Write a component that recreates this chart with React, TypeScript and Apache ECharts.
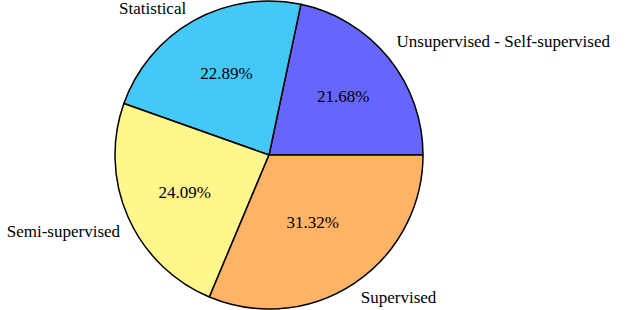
import React, { useEffect, useRef } from "react";
import * as echarts from "echarts";

const categories = ["Unsupervised - Self-supervised", "Statistical", "Semi-supervised", "Supervised"];
const shares = [21.68, 22.89, 24.09, 31.32];
const colors = ["#6666ff", "#44c8f5", "#fff68c", "#ffb366"];

export default function App() {
  const ref = useRef<HTMLDivElement>(null);
  useEffect(() => {
    document.body.style.margin = "0";
    const chart = echarts.init(ref.current!, null, { renderer: "svg" });
    const R = 154;
    const FAMILY = "'Liberation Serif', 'Times New Roman', serif";
    const nameNudge = [[-4, -7], [0, 1], [6, 8], [-2, 1]];
    const pctNudge = [[0, 2], [4, 2], [3, -1], [-9, -12]];
    chart.setOption({
      animation: false,
      backgroundColor: "#fff",
      textStyle: { fontFamily: FAMILY, fontSize: 17, color: "#000" },
      series: [
        {
          type: "pie",
          center: [269, 155],
          radius: [0, R],
          startAngle: 0,
          clockwise: false,
          avoidLabelOverlap: false,
          silent: true,
          itemStyle: { borderColor: "#000", borderWidth: 1.5 },
          label: {
            show: true,
            position: "outside",
            formatter: "{b}",
            distanceToLabelLine: 0,
            fontFamily: FAMILY,
            fontSize: 17,
            color: "#000",
          },
          labelLine: { show: false, length: R * 0.1, length2: 0 },
          labelLayout: (p: any) => ({ dx: nameNudge[p.dataIndex][0], dy: nameNudge[p.dataIndex][1] }),
          data: categories.map((name, i) => ({ name, value: shares[i], itemStyle: { color: colors[i] } })),
        },
        {
          type: "pie",
          center: [269, 155],
          radius: [R * 0.2, R],
          startAngle: 0,
          clockwise: false,
          silent: true,
          itemStyle: { color: "rgba(0,0,0,0)", borderWidth: 0 },
          label: {
            show: true,
            position: "inside",
            formatter: (p: any) => `${p.value.toFixed(2)}%`,
            fontFamily: FAMILY,
            fontSize: 17,
            color: "#000",
          },
          labelLine: { show: false },
          labelLayout: (p: any) => ({ dx: pctNudge[p.dataIndex][0], dy: pctNudge[p.dataIndex][1] }),
          data: categories.map((name, i) => ({ name, value: shares[i] })),
        },
      ],
    });
    return () => chart.dispose();
  }, []);
  return <div ref={ref} style={{ width: 626, height: 310 }} />;
}
